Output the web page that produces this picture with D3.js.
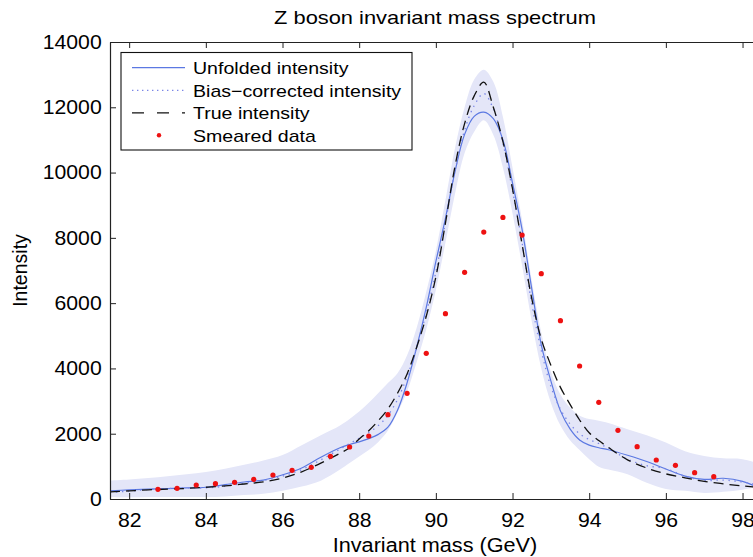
<!DOCTYPE html>
<html><head><meta charset="utf-8">
<script src="https://cdn.jsdelivr.net/npm/d3@7"></script>
<style>
body{margin:0;background:#fff}
svg{display:block}
text{font-family:"Liberation Sans",Arial,Helvetica,sans-serif;fill:#000}
</style>
</head><body>
<svg id="c" width="753" height="557"></svg>
<script>
// ---------- DATA ----------
const massGrid = [81.5, 82, 82.5, 83, 83.5, 84, 84.5, 85, 85.5, 86, 86.5, 87, 87.5,
  87.75, 88, 88.25, 88.5, 88.75, 89, 89.25, 89.5, 89.75, 90, 90.25, 90.5, 90.75, 91,
  91.25, 91.5, 91.75, 92, 92.25, 92.5, 92.75, 93, 93.25, 93.5, 93.75, 94, 94.25, 94.5,
  95, 95.5, 96, 96.5, 97, 97.5, 98, 98.5];
const unfolded = [250, 280, 300, 320, 340, 360, 440, 520, 580, 740, 950, 1280, 1570,
  1670, 1750, 1850, 1980, 2200, 2720, 3560, 4650, 5870, 7270, 8600, 10030, 11170, 11720,
  11850, 11650, 11000, 9680, 8250, 6450, 4720, 3620, 2700, 2150, 1810, 1650, 1570, 1510,
  1340, 1150, 920, 700, 600, 635, 540, 300];
const biasCorrected = [200, 240, 290, 320, 340, 340, 390, 480, 570, 700, 900, 1200, 1530,
  1700, 1860, 2040, 2250, 2560, 3050, 3750, 4650, 5700, 6950, 8480, 10050, 11300, 12050,
  12420, 11950, 10900, 9450, 7850, 6000, 4550, 3450, 2750, 2300, 2000, 1820, 1700, 1560,
  1220, 1020, 930, 700, 570, 580, 520, 420];
const trueIntensity = [220, 250, 280, 300, 325, 360, 400, 460, 525, 640, 830, 1100, 1400,
  1570, 1840, 2090, 2400, 2760, 3240, 3830, 4650, 5600, 6800, 8450, 10200, 11500, 12350,
  12770, 12000, 10950, 9500, 7800, 6150, 4900, 4100, 3420, 2900, 2420, 2030, 1790, 1580,
  1200, 950, 770, 650, 540, 465, 400, 350];
const bandLow = [60, 50, 60, 60, 60, 60, 80, 120, 160, 250, 380, 560, 900,
  1100, 1300, 1500, 1750, 2100, 2650, 3300, 4200, 5200, 6400, 7850, 9350, 10600, 11250,
  11600, 11150, 10150, 8750, 7150, 5450, 4000, 2950, 2250, 1800, 1500, 1220, 990, 900,
  760, 500, 310, 250, 185, 220, 285, 400];
const bandHigh = [570, 600, 640, 700, 760, 830, 930, 1050, 1180, 1350, 1650, 1950, 2250,
  2450, 2680, 2950, 3250, 3550, 3850, 4400, 5250, 6350, 7600, 9150, 10750, 12000, 12850,
  13150, 12780, 11700, 10150, 8550, 6700, 5100, 3900, 3200, 2800, 2550, 2450, 2400, 2330,
  2140, 1950, 1730, 1460, 1320, 1245, 1220, 1050];
const smearedMass = [82.75, 83.25, 83.75, 84.25, 84.75, 85.25, 85.75, 86.25, 86.75, 87.25,
  87.75, 88.25, 88.75, 89.25, 89.75, 90.25, 90.75, 91.25, 91.75, 92.25, 92.75, 93.25,
  93.75, 94.25, 94.75, 95.25, 95.75, 96.25, 96.75, 97.25];
const smearedData = [297, 327, 429, 469, 511, 603, 735, 878, 970, 1307, 1593, 1930, 2583,
  3237, 4462, 5677, 6943, 8178, 8627, 8086, 6902, 5462, 4074, 2961, 2103, 1603, 1195,
  1031, 807, 684];
const xTicks = [82, 84, 86, 88, 90, 92, 94, 96, 98];
const yTicks = [0, 2000, 4000, 6000, 8000, 10000, 12000, 14000];
const legendLabels = ["Unfolded intensity", "Bias\u2212corrected intensity", "True intensity", "Smeared data"];
const titleText = "Z boson invariant mass spectrum";
const xLabel = "Invariant mass (GeV)";
const yLabel = "Intensity";

// ---------- LAYOUT ----------
const L = 110, R = 761.7, T = 42, B = 499;
const x = d3.scaleLinear().domain([81.5, 98.5]).range([L, R]);
const y = d3.scaleLinear().domain([0, 14000]).range([B, T]);
const svg = d3.select("#c");

function stretch(sel, k) {
  sel.each(function () {
    const len = this.getComputedTextLength();
    d3.select(this).attr("textLength", len * k).attr("lengthAdjust", "spacingAndGlyphs");
  });
}

svg.append("defs").append("clipPath").attr("id", "clip")
  .append("rect").attr("x", L).attr("y", T).attr("width", R - L).attr("height", B - T);

const plot = svg.append("g").attr("clip-path", "url(#clip)");
const idx = d3.range(massGrid.length);

plot.append("path")
  .attr("d", d3.area().x(i => x(massGrid[i])).y0(i => y(bandLow[i])).y1(i => y(bandHigh[i]))
    .curve(d3.curveCatmullRom)(idx))
  .attr("fill", "#e4e6f8");

const lineOf = arr => d3.line().x(i => x(massGrid[i])).y(i => y(arr[i])).curve(d3.curveCatmullRom)(idx);

plot.append("path").attr("d", lineOf(unfolded))
  .attr("fill", "none").attr("stroke", "#5b78e2").attr("stroke-width", 1.2);
plot.append("path").attr("d", lineOf(biasCorrected))
  .attr("fill", "none").attr("stroke", "#7a86e6").attr("stroke-width", 1.3)
  .attr("stroke-dasharray", "1.4,4.6");
plot.append("path").attr("d", lineOf(trueIntensity))
  .attr("fill", "none").attr("stroke", "#111").attr("stroke-width", 1.3)
  .attr("stroke-dasharray", "10,6");

plot.selectAll("circle.sm").data(smearedMass).join("circle").attr("class", "sm")
  .attr("cx", (d) => x(d)).attr("cy", (d, i) => y(smearedData[i])).attr("r", 2.6)
  .attr("fill", "#ee1111");

// ---------- AXES ----------
const axisColor = "#222";
const gx = svg.append("g").attr("transform", `translate(0,${B})`)
  .call(d3.axisBottom(x).tickValues(xTicks).tickFormat(d3.format("d"))
    .tickSizeInner(-6).tickSizeOuter(0).tickPadding(14));
const gxt = svg.append("g").attr("transform", `translate(0,${T})`)
  .call(d3.axisTop(x).tickValues(xTicks).tickFormat("").tickSizeInner(-6).tickSizeOuter(0));
const gy = svg.append("g").attr("transform", `translate(${L},0)`)
  .call(d3.axisLeft(y).tickValues(yTicks).tickFormat(d3.format("d"))
    .tickSizeInner(-6).tickSizeOuter(0).tickPadding(8.3));
const gyr = svg.append("g").attr("transform", `translate(${R},0)`)
  .call(d3.axisRight(y).tickValues(yTicks).tickFormat("").tickSizeInner(-6).tickSizeOuter(0));
[gx, gxt, gy, gyr].forEach(g => {
  g.select(".domain").attr("stroke", axisColor).attr("stroke-width", 1.2);
  g.selectAll(".tick line").attr("stroke", axisColor).attr("stroke-width", 1);
  g.selectAll("text").style("font-family", '"Liberation Sans",Arial,sans-serif')
    .attr("font-size", 20).attr("fill", "#000");
});
stretch(gx.selectAll("text"), 1.06);
stretch(gy.selectAll("text"), 1.06);

// ---------- TITLES ----------
const title = svg.append("text").attr("x", 435).attr("y", 23.5).attr("text-anchor", "middle")
  .attr("font-size", 19).text(titleText);
stretch(title, 1.15);
const xl = svg.append("text").attr("x", 435).attr("y", 552).attr("text-anchor", "middle")
  .attr("font-size", 19.5).text(xLabel);
stretch(xl, 1.11);
svg.append("text").attr("transform", "translate(27,270.5) rotate(-90)")
  .attr("text-anchor", "middle").attr("font-size", 19.5).text(yLabel);

// ---------- LEGEND ----------
const lg = svg.append("g");
lg.append("rect").attr("x", 121).attr("y", 52.5).attr("width", 291).attr("height", 97.5)
  .attr("fill", "#fff").attr("stroke", "#111").attr("stroke-width", 1.1);
const rowY = [67.7, 90.3, 112.8, 135.3];
lg.append("line").attr("x1", 132).attr("x2", 185).attr("y1", rowY[0]).attr("y2", rowY[0])
  .attr("stroke", "#5b78e2").attr("stroke-width", 1.2);
lg.append("line").attr("x1", 132).attr("x2", 185).attr("y1", rowY[1]).attr("y2", rowY[1])
  .attr("stroke", "#7a86e6").attr("stroke-width", 1.3).attr("stroke-dasharray", "1.4,3.6");
lg.append("line").attr("x1", 132).attr("x2", 185).attr("y1", rowY[2]).attr("y2", rowY[2])
  .attr("stroke", "#111").attr("stroke-width", 1.3).attr("stroke-dasharray", "12,13");
lg.append("circle").attr("cx", 159).attr("cy", rowY[3]).attr("r", 2.2).attr("fill", "#ee1111");
const lt = lg.selectAll("text.lt").data(legendLabels).join("text").attr("class", "lt")
  .attr("x", 193).attr("y", (d, i) => rowY[i] + 6.2).attr("font-size", 17).text(d => d);
stretch(lt, 1.15);
</script>
</body></html>
